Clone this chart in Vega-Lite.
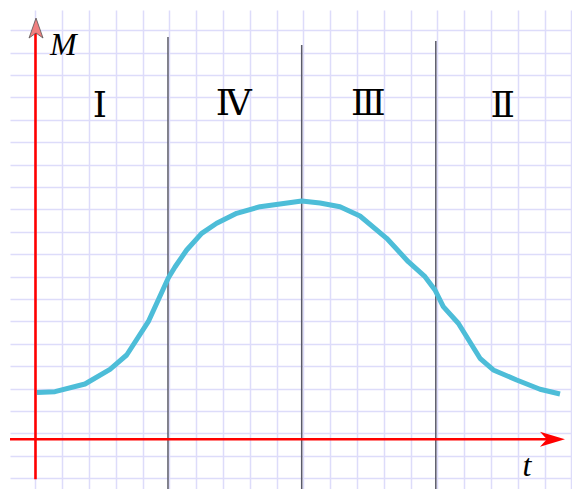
{
  "$schema": "https://vega.github.io/schema/vega-lite/v6.json",
  "width": 562,
  "height": 479,
  "padding": {"left": 10, "top": 10, "right": 0, "bottom": 0},
  "autosize": {"type": "none"},
  "background": "white",
  "config": {
    "view": {"stroke": null},
    "axis": {"labels": false, "ticks": false, "domain": false, "grid": true, "gridColor": "#dddcfa", "gridWidth": 1.5, "gridOpacity": 1}
  },
  "datasets": {
    "curve": [
      {"t": 0.056, "M": 2.089}, {"t": 0.728, "M": 2.125}, {"t": 1.847, "M": 2.469},
      {"t": 2.78, "M": 3.125}, {"t": 3.403, "M": 3.763}, {"t": 4.209, "M": 5.25},
      {"t": 4.955, "M": 7.201}, {"t": 5.205, "M": 7.692}, {"t": 5.642, "M": 8.451},
      {"t": 6.201, "M": 9.196}, {"t": 6.761, "M": 9.643}, {"t": 7.507, "M": 10.089},
      {"t": 8.377, "M": 10.384}, {"t": 9.123, "M": 10.504}, {"t": 9.933, "M": 10.638},
      {"t": 10.616, "M": 10.549}, {"t": 11.362, "M": 10.384}, {"t": 12.108, "M": 9.969},
      {"t": 13.104, "M": 8.973}, {"t": 13.91, "M": 7.929}, {"t": 14.534, "M": 7.259},
      {"t": 14.907, "M": 6.665}, {"t": 15.216, "M": 5.92}, {"t": 15.776, "M": 5.179},
      {"t": 16.586, "M": 3.616}, {"t": 17.082, "M": 3.094}, {"t": 17.955, "M": 2.647},
      {"t": 18.825, "M": 2.232}, {"t": 19.571, "M": 2.022}
    ],
    "dividers": [
      {"t": 4.944, "top": 17.96, "bottom": -2.22},
      {"t": 9.933, "top": 17.6, "bottom": -2.22},
      {"t": 14.937, "top": 17.78, "bottom": -2.22}
    ],
    "axes": [
      {"t": -0.951, "M": 0, "t2": 19.3, "M2": 0},
      {"t": 0, "M": -1.786, "t2": 0, "M2": 18.4}
    ],
    "arrowT": [{"t": 19.29, "M": 0}],
    "arrowM": [{"t": 0.02, "M": 18.36}],
    "regions": [
      {"t": 2.4, "M": 14.39, "label": "Ⅰ"},
      {"t": 7.4, "M": 14.48, "label": "Ⅳ"},
      {"t": 12.42, "M": 14.48, "label": "Ⅲ"},
      {"t": 17.43, "M": 14.39, "label": "Ⅱ"}
    ],
    "axisNames": [
      {"t": 0.54, "M": 17.16, "label": "M"},
      {"t": 18.17, "M": -1.64, "label": "t"}
    ]
  },
  "encoding": {
    "x": {
      "field": "t", "type": "quantitative",
      "scale": {"domain": [-0.951, 20.019], "nice": false, "zero": false},
      "axis": {"values": [0,1,2,3,4,5,6,7,8,9,10,11,12,13,14,15,16,17,18,19,20], "title": null}
    },
    "y": {
      "field": "M", "type": "quantitative",
      "scale": {"domain": [-2.219, 19.165], "nice": false, "zero": false},
      "axis": {"values": [18.26,17.26,16.26,15.26,14.26,13.26,12.26,11.26,10.26,9.26,8.26,7.26,6.26,5.26,4.26,3.26,2.26,1.26,0.26,-0.74,-1.74], "title": null}
    }
  },
  "layer": [
    {
      "data": {"name": "dividers"},
      "mark": {"type": "rule", "color": "#5a5a68", "strokeWidth": 1.5},
      "encoding": {
        "y": {"field": "top", "type": "quantitative"},
        "y2": {"field": "bottom"}
      }
    },
    {
      "data": {"name": "curve"},
      "mark": {"type": "line", "color": "#4dbdd8", "strokeWidth": 5, "strokeJoin": "round"}
    },
    {
      "data": {"name": "axes"},
      "mark": {"type": "rule", "color": "#ff0000", "strokeWidth": 2.6},
      "encoding": {
        "x2": {"field": "t2"},
        "y2": {"field": "M2"}
      }
    },
    {
      "data": {"name": "arrowT"},
      "mark": {"type": "point", "shape": "M1,0 L-1,-0.6 L-0.45,0 L-1,0.6 Z", "size": 625, "filled": true, "fill": "#ff0000", "opacity": 1, "strokeWidth": 0}
    },
    {
      "data": {"name": "arrowM"},
      "mark": {"type": "point", "shape": "M0,-1 L0.7,1 L0,0.5 L-0.7,1 Z", "size": 400, "filled": true, "fill": "#f08080", "stroke": "#555555", "strokeWidth": 0.8, "opacity": 1}
    },
    {
      "data": {"name": "regions"},
      "mark": {"type": "text", "font": "Liberation Serif, DejaVu Serif, serif", "fontSize": 36, "align": "center", "baseline": "alphabetic", "color": "#000000"},
      "encoding": {"text": {"field": "label"}}
    },
    {
      "data": {"name": "axisNames"},
      "mark": {"type": "text", "font": "Liberation Serif, DejaVu Serif, serif", "fontSize": 32, "fontStyle": "italic", "align": "left", "baseline": "alphabetic", "color": "#000000"},
      "encoding": {"text": {"field": "label"}}
    }
  ]
}
